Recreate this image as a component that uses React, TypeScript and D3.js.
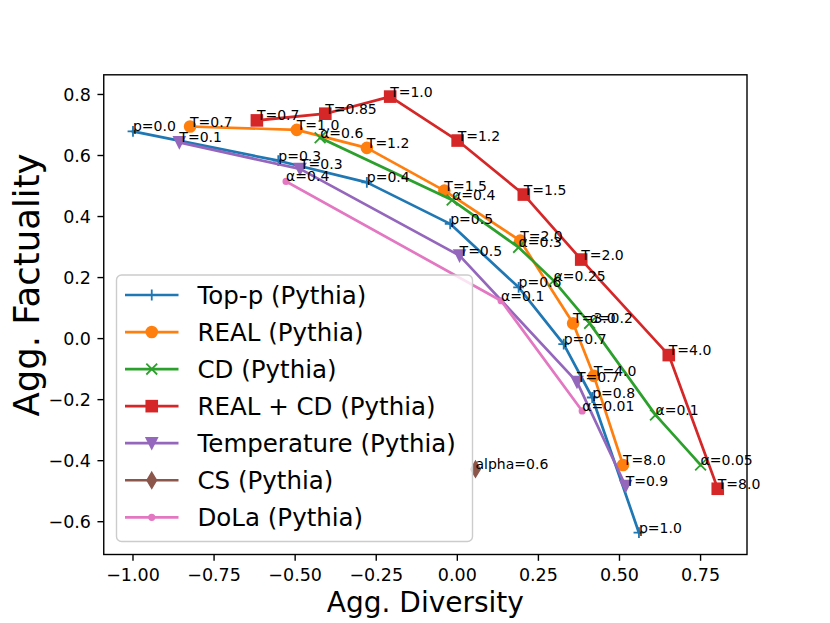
import * as d3 from 'd3';

const W = 830;
const H = 623;
const M = { left: 103.75, right: 747, top: 74.8, bottom: 554.5 };
const FONT = 'DejaVu Sans';

// Top-p (Pythia)
const TOPP_X = [-1.0, -0.552, -0.279, -0.022, 0.189, 0.328, 0.416, 0.56];
const TOPP_Y = [0.679, 0.583, 0.512, 0.376, 0.168, -0.018, -0.193, -0.636];
const TOPP_LABELS = ['p=0.0', 'p=0.3', 'p=0.4', 'p=0.5', 'p=0.6', 'p=0.7', 'p=0.8', 'p=1.0'];

// REAL (Pythia)
const REAL_X = [-0.824, -0.495, -0.279, -0.04, 0.194, 0.357, 0.421, 0.511];
const REAL_Y = [0.695, 0.684, 0.625, 0.485, 0.321, 0.05, -0.122, -0.414];
const REAL_LABELS = ['T=0.7', 'T=1.0', 'T=1.2', 'T=1.5', 'T=2.0', 'T=3.0', 'T=4.0', 'T=8.0'];

// CD (Pythia)
const CD_X = [-0.423, -0.016, 0.189, 0.297, 0.408, 0.611, 0.75];
const CD_Y = [0.658, 0.454, 0.299, 0.19, 0.05, -0.25, -0.414];
const CD_LABELS = ['α=0.6', 'α=0.4', 'α=0.3', 'α=0.25', 'α=0.2', 'α=0.1', 'α=0.05'];

// REAL + CD (Pythia)
const RCD_X = [-0.618, -0.407, -0.207, 0.001, 0.205, 0.382, 0.652, 0.803];
const RCD_Y = [0.715, 0.737, 0.793, 0.649, 0.472, 0.259, -0.054, -0.492];
const RCD_LABELS = ['T=0.7', 'T=0.85', 'T=1.0', 'T=1.2', 'T=1.5', 'T=2.0', 'T=4.0', 'T=8.0'];

// Temperature (Pythia)
const TEMP_X = [-0.857, -0.485, 0.007, 0.369, 0.519];
const TEMP_Y = [0.643, 0.556, 0.272, -0.142, -0.483];
const TEMP_LABELS = ['T=0.1', 'T=0.3', 'T=0.5', 'T=0.7', 'T=0.9'];

// CS (Pythia)
const CS_X = [0.056];
const CS_Y = [-0.428];
const CS_LABELS = ['alpha=0.6'];

// DoLa (Pythia)
const DOLA_X = [-0.528, 0.135, 0.385];
const DOLA_Y = [0.515, 0.124, -0.237];
const DOLA_LABELS = ['α=0.4', 'α=0.1', 'α=0.01'];

const X_TICKS = [-1.0, -0.75, -0.5, -0.25, 0.0, 0.25, 0.5, 0.75];
const Y_TICKS = [-0.6, -0.4, -0.2, 0.0, 0.2, 0.4, 0.6, 0.8];

const SERIES = [
  { name: 'Top-p (Pythia)', color: '#1f77b4', marker: '+', xs: TOPP_X, ys: TOPP_Y, labels: TOPP_LABELS },
  { name: 'REAL (Pythia)', color: '#ff7f0e', marker: 'o', xs: REAL_X, ys: REAL_Y, labels: REAL_LABELS },
  { name: 'CD (Pythia)', color: '#2ca02c', marker: 'x', xs: CD_X, ys: CD_Y, labels: CD_LABELS },
  { name: 'REAL + CD (Pythia)', color: '#d62728', marker: 's', xs: RCD_X, ys: RCD_Y, labels: RCD_LABELS },
  { name: 'Temperature (Pythia)', color: '#9467bd', marker: 'v', xs: TEMP_X, ys: TEMP_Y, labels: TEMP_LABELS },
  { name: 'CS (Pythia)', color: '#8c564b', marker: 'd', xs: CS_X, ys: CS_Y, labels: CS_LABELS },
  { name: 'DoLa (Pythia)', color: '#e377c2', marker: '.', xs: DOLA_X, ys: DOLA_Y, labels: DOLA_LABELS },
];

const MS = 10.8; // marker size in px
const MEW = 1.8; // marker edge width
const LW = 2.7; // line width

function padded(vals: number[]): [number, number] {
  const [lo, hi] = d3.extent(vals) as [number, number];
  const pad = (hi - lo) * 0.05;
  return [lo - pad, hi + pad];
}

function Marker({ type, color, cx, cy }: { type: string; color: string; cx: number; cy: number }) {
  const h = MS / 2;
  switch (type) {
    case '+':
      return <path d={`M${cx - h},${cy}H${cx + h}M${cx},${cy - h}V${cy + h}`} stroke={color} strokeWidth={MEW} fill="none" />;
    case 'x':
      return (
        <path
          d={`M${cx - h},${cy - h}L${cx + h},${cy + h}M${cx - h},${cy + h}L${cx + h},${cy - h}`}
          stroke={color}
          strokeWidth={MEW}
          fill="none"
        />
      );
    case 'o':
      return <circle cx={cx} cy={cy} r={h} fill={color} stroke={color} strokeWidth={MEW} />;
    case 's':
      return <rect x={cx - h} y={cy - h} width={MS} height={MS} fill={color} stroke={color} strokeWidth={MEW} />;
    case 'v':
      return (
        <path d={`M${cx},${cy + h}L${cx - h},${cy - h}L${cx + h},${cy - h}Z`} fill={color} stroke={color} strokeWidth={MEW} strokeLinejoin="miter" />
      );
    case 'd': {
      const dy = MS * 0.7071;
      const dx = dy * 0.6;
      return <path d={`M${cx},${cy - dy}L${cx + dx},${cy}L${cx},${cy + dy}L${cx - dx},${cy}Z`} fill={color} stroke={color} strokeWidth={MEW} />;
    }
    case '.':
      return <circle cx={cx} cy={cy} r={MS / 4} fill={color} stroke={color} strokeWidth={MEW} />;
    default:
      return null;
  }
}

export default function App() {
  const allX = SERIES.flatMap((s) => s.xs);
  const allY = SERIES.flatMap((s) => s.ys);
  const x = d3.scaleLinear().domain(padded(allX)).range([M.left, M.right]);
  const y = d3.scaleLinear().domain(padded(allY)).range([M.bottom, M.top]);
  const line = d3.line<[number, number]>().x((d) => x(d[0])).y((d) => y(d[1]));
  const fx = d3.format('.2f');
  const fy = d3.format('.1f');

  // legend geometry
  const LG = { left: 116.5, top: 275, right: 472.5, bottom: 541.5, row0: 295, step: 37.05, h0: 125, h1: 178.5, tx: 197.5 };

  return (
    <svg
      width={W}
      height={H}
      style={{ position: 'absolute', left: 0, top: 0, background: '#fff' }}
      fontFamily={FONT}
    >
      <rect width={W} height={H} fill="#fff" />

      {SERIES.map((s) => {
        const pts = s.xs.map((v, i) => [v, s.ys[i]] as [number, number]);
        return (
          <g key={s.name}>
            <path d={line(pts) ?? ''} fill="none" stroke={s.color} strokeWidth={LW} strokeLinejoin="round" strokeLinecap="square" />
            {pts.map((p, i) => (
              <Marker key={i} type={s.marker} color={s.color} cx={x(p[0])} cy={y(p[1])} />
            ))}
          </g>
        );
      })}

      {/* spines */}
      <rect x={M.left} y={M.top} width={M.right - M.left} height={M.bottom - M.top} fill="none" stroke="#000" strokeWidth={1.4} />

      {/* x ticks */}
      {X_TICKS.map((t) => (
        <g key={'x' + t}>
          <line x1={x(t)} x2={x(t)} y1={M.bottom} y2={M.bottom + 6.3} stroke="#000" strokeWidth={1.4} />
          <text x={x(t)} y={581} fontSize={17.5} textAnchor="middle">
            {fx(t)}
          </text>
        </g>
      ))}
      {/* y ticks */}
      {Y_TICKS.map((t) => (
        <g key={'y' + t}>
          <line x1={M.left - 6.3} x2={M.left} y1={y(t)} y2={y(t)} stroke="#000" strokeWidth={1.4} />
          <text x={91} y={y(t) + 6.3} fontSize={17.5} textAnchor="end">
            {fy(t)}
          </text>
        </g>
      ))}

      <text x={(M.left + M.right) / 2} y={612} fontSize={28} textAnchor="middle">
        Agg. Diversity
      </text>
      <text transform={`translate(39,285) rotate(-90)`} fontSize={35.5} textAnchor="middle">
        Agg. Factuality
      </text>

      {/* point annotations */}
      {SERIES.map((s) =>
        s.labels.map((lab, i) => (
          <text key={s.name + lab + i} x={x(s.xs[i])} y={y(s.ys[i])} fontSize={14}>
            {lab}
          </text>
        ))
      )}

      {/* legend */}
      <rect
        x={LG.left}
        y={LG.top}
        width={LG.right - LG.left}
        height={LG.bottom - LG.top}
        rx={5}
        fill="#fff"
        fillOpacity={0.8}
        stroke="#cccccc"
        strokeWidth={1.4}
      />
      {SERIES.map((s, i) => {
        const cy = LG.row0 + i * LG.step;
        return (
          <g key={'lg' + s.name}>
            <line x1={LG.h0} x2={LG.h1} y1={cy} y2={cy} stroke={s.color} strokeWidth={LW} />
            <Marker type={s.marker} color={s.color} cx={(LG.h0 + LG.h1) / 2} cy={cy} />
            <text x={LG.tx} y={cy + 9} fontSize={24.5}>
              {s.name}
            </text>
          </g>
        );
      })}
    </svg>
  );
}
